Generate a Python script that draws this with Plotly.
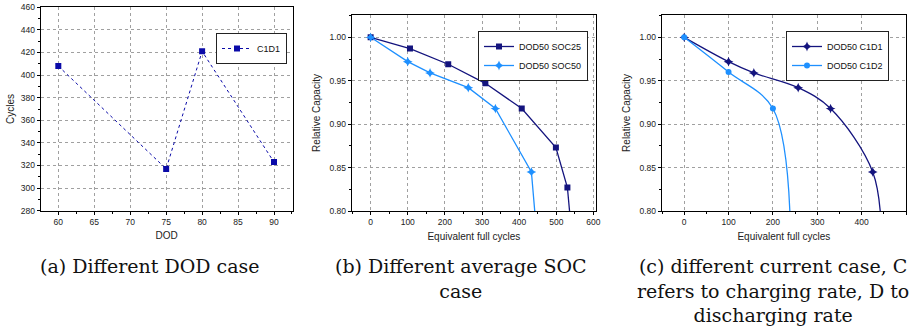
import plotly.graph_objects as go

# ---- data ----
dod = [60, 75, 80, 90]
cycles_c1d1 = [408, 317, 421, 323]

soc25_x = [0, 106, 209, 309, 407, 499, 530, 540]
soc25_y = [1.000, 0.987, 0.969, 0.947, 0.918, 0.873, 0.827, 0.780]
soc50_x = [0, 100, 160, 263, 336, 433, 446]
soc50_y = [1.000, 0.972, 0.959, 0.942, 0.918, 0.845, 0.780]

c1d1_x = [0, 100, 157, 257, 330, 425, 445]
c1d1_y = [1.000, 0.972, 0.959, 0.942, 0.918, 0.845, 0.770]
c1d2_x = [0, 100, 200, 240]
c1d2_y = [1.000, 0.960, 0.918, 0.770]

captions = [
    "(a) Different DOD case",
    "(b) Different average SOC<br>case",
    "(c) different current case, C<br>refers to charging rate, D to<br>discharging rate",
]

NAVY = "#14147e"
NAVY_A = "#0a0aa8"
LIGHT = "#1e90ff"

fig = go.Figure()

fig.add_trace(go.Scatter(x=dod, y=cycles_c1d1, mode="lines+markers", name="C1D1",
                         line=dict(color=NAVY_A, width=1, dash="dot"),
                         marker=dict(symbol="square", size=6, color=NAVY_A),
                         xaxis="x", yaxis="y", legend="legend"))

fig.add_trace(go.Scatter(x=soc25_x, y=soc25_y, mode="lines+markers", name="DOD50 SOC25",
                         line=dict(color=NAVY, width=1.3),
                         marker=dict(symbol="square", size=6, color=NAVY),
                         xaxis="x2", yaxis="y2", legend="legend2"))
fig.add_trace(go.Scatter(x=soc50_x, y=soc50_y, mode="lines+markers", name="DOD50 SOC50",
                         line=dict(color=LIGHT, width=1.3),
                         marker=dict(symbol="star-diamond", size=7, color=LIGHT),
                         xaxis="x2", yaxis="y2", legend="legend2"))

fig.add_trace(go.Scatter(x=c1d1_x, y=c1d1_y, mode="lines+markers", name="DOD50 C1D1",
                         line=dict(color=NAVY, width=1.3, shape="spline", smoothing=1.0),
                         marker=dict(symbol="star-diamond", size=7, color=NAVY),
                         xaxis="x3", yaxis="y3", legend="legend3"))
fig.add_trace(go.Scatter(x=c1d2_x, y=c1d2_y, mode="lines+markers", name="DOD50 C1D2",
                         line=dict(color=LIGHT, width=1.3, shape="spline", smoothing=1.0),
                         marker=dict(symbol="circle", size=6, color=LIGHT),
                         xaxis="x3", yaxis="y3", legend="legend3"))

W, H = 910, 330

def dom_x(a, b):
    return [a / W, b / W]

def dom_y(top, bottom):
    return [1 - bottom / H, 1 - top / H]

tickfont = dict(family="Liberation Sans, Arial", size=8.5, color="#222")
titlefont = dict(family="Liberation Sans, Arial", size=10, color="#222")

def axis(domain, rng, dtick, minor, title, anchor, standoff):
    return dict(domain=domain, range=rng, dtick=dtick, tick0=0, automargin=False,
                showline=True, linecolor="black", linewidth=1, mirror=True,
                ticks="outside", ticklen=3, tickcolor="black", tickwidth=1,
                minor=dict(dtick=minor, ticks="outside", ticklen=2, tickcolor="black", showgrid=False),
                showgrid=True, gridcolor="#a0a0a0", griddash="dot", gridwidth=1,
                zeroline=False, tickfont=tickfont,
                title=dict(text=title, font=titlefont, standoff=standoff),
                anchor=anchor)

layout = dict(
    width=W, height=H, margin=dict(l=0, r=0, t=0, b=0, autoexpand=False),
    paper_bgcolor="white", plot_bgcolor="white", showlegend=True,
)

layout["xaxis"] = axis(dom_x(40.7, 292.7), [57.55, 92.6], 5, 2.5, "DOD", "y", 6)
layout["yaxis"] = axis(dom_y(7.3, 210.7), [280, 460], 20, 10, "Cycles", "x", 4)
layout["xaxis2"] = axis(dom_x(351.7, 596), [-51, 607], 100, 50, "Equivalent full cycles", "y2", 6)
layout["yaxis2"] = axis(dom_y(15, 211), [0.80, 1.0257], 0.05, 0.025, "Relative Capacity", "x2", 6)
layout["xaxis3"] = axis(dom_x(661.7, 906), [-50.7, 500], 100, 50, "Equivalent full cycles", "y3", 6)
layout["yaxis3"] = axis(dom_y(15, 211), [0.80, 1.0257], 0.05, 0.025, "Relative Capacity", "x3", 6)
layout["yaxis2"]["tickformat"] = ".2f"
layout["yaxis3"]["tickformat"] = ".2f"

legfont = dict(family="Liberation Sans, Arial", size=9, color="#111")
def leg(x, y):
    return dict(x=x / W, y=1 - y / H, xanchor="right", yanchor="top",
                bgcolor="white", bordercolor="#222", borderwidth=1,
                font=legfont, tracegroupgap=0, itemwidth=30,
                xref="paper", yref="paper")

layout["legend"] = leg(287, 33)
layout["legend2"] = leg(588, 31)
layout["legend3"] = leg(889, 31)

fig.update_layout(**layout)

capfont = dict(family="DejaVu Serif", size=19, color="#111")
cap_pos = [(150, 253), (461, 253), (773, 253)]
for text, (cx, cy) in zip(captions, cap_pos):
    fig.add_annotation(text=text, x=cx / W, y=1 - cy / H, xref="paper", yref="paper",
                       xanchor="center", yanchor="top", showarrow=False,
                       font=capfont, align="center")

fig.write_html("out.html", config={"displayModeBar": False},
               post_script="document.body.style.margin='0';document.body.style.padding='0';")
